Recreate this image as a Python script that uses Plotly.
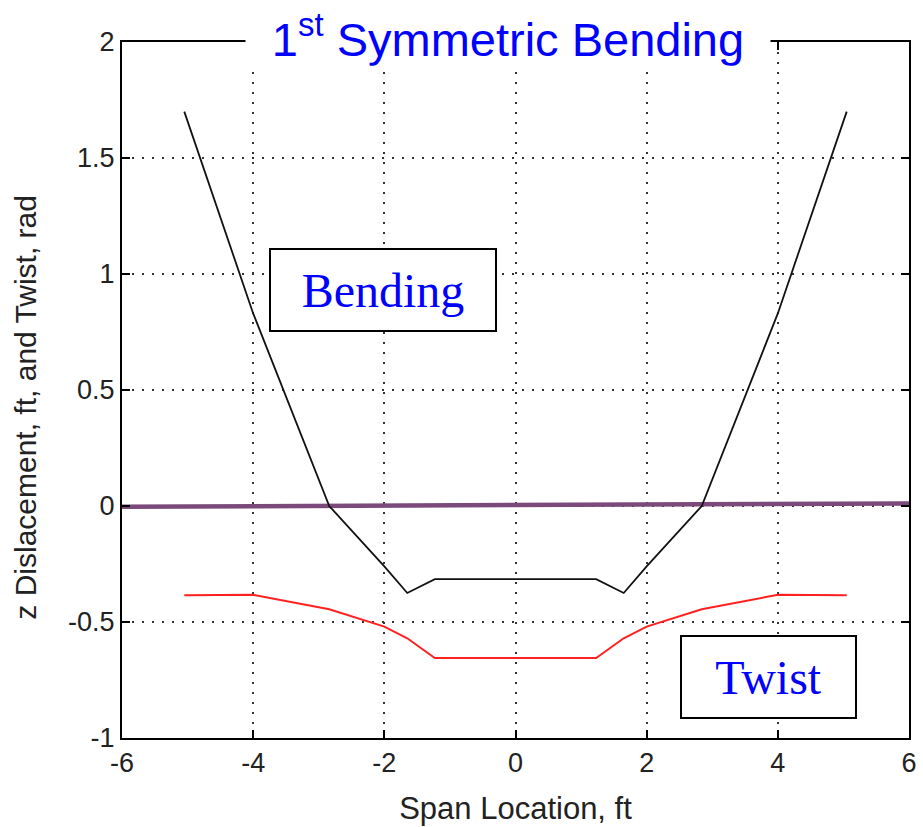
import plotly.graph_objects as go

# Data
bend_x = [-5.05, -4.0, -2.84, -2.0, -1.65, -1.23, 1.23, 1.65, 2.0, 2.84, 4.0, 5.05]
bend_y = [1.70, 0.83, 0.0, -0.26, -0.375, -0.315, -0.315, -0.375, -0.26, 0.0, 0.83, 1.70]

twist_x = [-5.05, -4.0, -2.84, -2.0, -1.65, -1.23, 1.23, 1.65, 2.0, 2.84, 4.0, 5.05]
twist_y = [-0.385, -0.383, -0.445, -0.52, -0.57, -0.655, -0.655, -0.57, -0.52, -0.445, -0.383, -0.385]

axis_x = [-6.0, 0.0, 6.0]
axis_y = [-0.003, 0.002, 0.011]

x_ticks = [-6, -4, -2, 0, 2, 4, 6]
y_ticks = [-1, -0.5, 0, 0.5, 1, 1.5, 2]
y_tick_text = ["-1", "-0.5", "0", "0.5", "1", "1.5", "2"]

fig = go.Figure()
fig.add_trace(go.Scatter(x=axis_x, y=axis_y, mode="lines",
                         line=dict(color="#7B4A7B", width=4.5), showlegend=False))
fig.add_trace(go.Scatter(x=bend_x, y=bend_y, mode="lines",
                         line=dict(color="#111111", width=1.8), showlegend=False))
fig.add_trace(go.Scatter(x=twist_x, y=twist_y, mode="lines",
                         line=dict(color="#FF2020", width=2), showlegend=False))

axis_common = dict(
    showline=True, linecolor="black", linewidth=2, mirror="ticks",
    ticks="inside", ticklen=8, tickwidth=1.5, tickcolor="black",
    showgrid=True, gridcolor="#333333", gridwidth=1.5, griddash="2px,8px",
    zeroline=False,
    tickfont=dict(family="Liberation Sans, Arial", size=27, color="#222222"),
)

fig.update_xaxes(range=[-6, 6], tickvals=x_ticks, ticktext=[str(v) for v in x_ticks],
                 title=dict(text="Span Location, ft",
                            font=dict(family="Liberation Sans, Arial", size=31, color="#222222"),
                            standoff=20),
                 **axis_common)
fig.update_yaxes(range=[-1, 2], tickvals=y_ticks, ticktext=y_tick_text, **axis_common)

fig.add_annotation(x=-0.122, y=0.476, xref="paper", yref="paper",
                   text="z Dislacement, ft, and Twist, rad", textangle=-90, showarrow=False,
                   font=dict(family="Liberation Sans, Arial", size=30, color="#222222"),
                   xanchor="center", yanchor="middle")

fig.add_annotation(x=-2.015, y=0.929, xref="x", yref="y", text="Bending",
                   showarrow=False, font=dict(family="Liberation Serif, Times New Roman", size=48, color="#0000FF"),
                   bordercolor="black", borderwidth=2, borderpad=0, bgcolor="white",
                   width=224, height=80)
fig.add_annotation(x=3.86, y=-0.737, xref="x", yref="y", text="Twist",
                   showarrow=False, font=dict(family="Liberation Serif, Times New Roman", size=48, color="#0000FF"),
                   bordercolor="black", borderwidth=2, borderpad=0, bgcolor="white",
                   width=173, height=80)
fig.add_annotation(x=0.4906, y=1.008, xref="paper", yref="paper", text="1<sup>st</sup> Symmetric Bending",
                   showarrow=False, font=dict(family="Liberation Sans, Arial", size=47, color="#0000FF"),
                   bgcolor="white", borderpad=0, width=524,
                   xanchor="center", yanchor="middle")

fig.update_layout(width=923, height=827, plot_bgcolor="white", paper_bgcolor="white",
                  margin=dict(l=122, r=6, t=42, b=89))

fig.write_html("out.html")
